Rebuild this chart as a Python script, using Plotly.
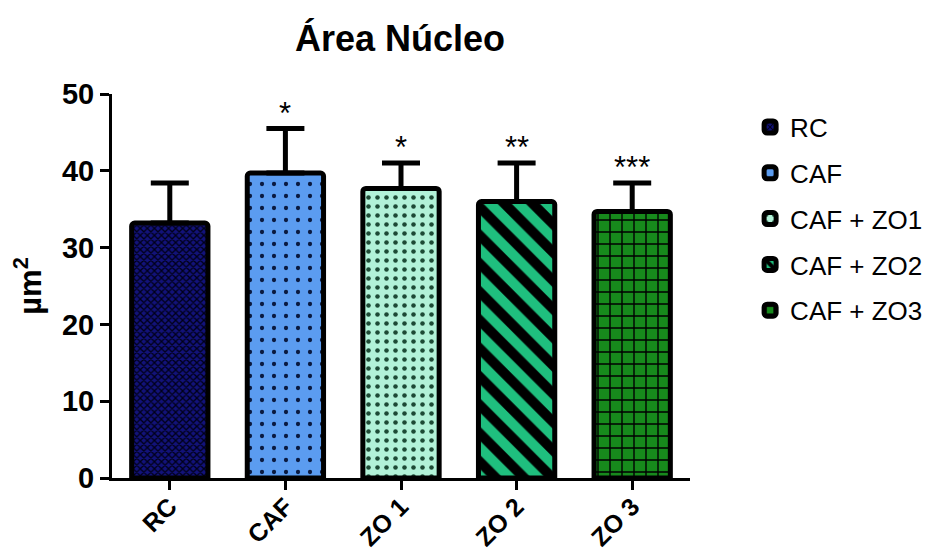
import plotly.graph_objects as go

categories = ["RC", "CAF", "ZO 1", "ZO 2", "ZO 3"]
legend_names = ["RC", "CAF", "CAF + ZO1", "CAF + ZO2", "CAF + ZO3"]
means = [33.2, 39.7, 37.7, 36.0, 34.7]
errors = [5.2, 5.8, 3.3, 5.0, 3.7]
stars = ["", "*", "*", "**", "***"]

fill_colors = ["#12127a", "#5b9cf0", "#b2f2d8", "#1fbf7e", "#178a1c"]
pattern_shapes = ["x", ".", ".", "\\", "+"]
pattern_fg = ["#000018", "#0a1a40", "#1d4a35", "#000000", "#000000"]
pattern_sizes = [5, 12, 9, 20, 12]
pattern_solid = [0.45, 0.1, 0.2, 0.5, 0.22]

FONT = "Liberation Sans, Arial, sans-serif"

fig = go.Figure()
for i in range(len(categories)):
    fig.add_trace(go.Bar(
        x=[categories[i]], y=[means[i]], name=legend_names[i],
        legendgroup=legend_names[i],
        width=0.66,
        marker=dict(
            color=fill_colors[i],
            line=dict(color="black", width=5),
            cornerradius=3,
            pattern=dict(shape=pattern_shapes[i], fgcolor=pattern_fg[i],
                         bgcolor=fill_colors[i], size=pattern_sizes[i],
                         solidity=pattern_solid[i], fgopacity=1),
        ),
        error_y=dict(type="data", symmetric=False, array=[errors[i]],
                     arrayminus=[0], color="black", thickness=5, width=19),
    ))

for i in range(len(categories)):
    if stars[i]:
        fig.add_annotation(x=categories[i], y=means[i] + errors[i], text=stars[i],
                           showarrow=False, yanchor="bottom", yshift=-4,
                           font=dict(family=FONT, size=31, color="black"))

fig.update_layout(
    width=938, height=553,
    margin=dict(l=104, r=256, t=86, b=83),
    paper_bgcolor="white", plot_bgcolor="white",
    title=dict(text="<b>Área Núcleo</b>", x=392 / 938, xanchor="center",
               y=1 - 30 / 553, yanchor="middle",
               font=dict(family=FONT, size=36, color="black")),
    font=dict(family=FONT, color="black"),
    showlegend=True,
    legend=dict(x=1.104, xanchor="left", y=0.975, yanchor="top",
                font=dict(family=FONT, size=26, color="black"),
                tracegroupgap=9, itemwidth=30),
)
fig.update_xaxes(
    range=[-0.5, 4.5], showline=True, linecolor="black", linewidth=3,
    ticks="outside", ticklen=9, tickwidth=3, tickcolor="black",
    tickangle=-45, showgrid=False, automargin=False, ticklabelstandoff=-8,
    tickfont=dict(family=FONT, size=25, color="black", weight="bold"),
)
fig.update_yaxes(
    range=[0, 50], tickvals=[0, 10, 20, 30, 40, 50], showline=True,
    linecolor="black", linewidth=3, ticks="outside", ticklen=9, tickwidth=3,
    tickcolor="black", showgrid=False, zeroline=False, automargin=False,
    tickfont=dict(family=FONT, size=29, color="black", weight="bold"),
    title=dict(text="<b>µm<sup>2</sup></b>", standoff=14,
               font=dict(family=FONT, size=31, color="black")),
)

fig.write_html("out.html")
